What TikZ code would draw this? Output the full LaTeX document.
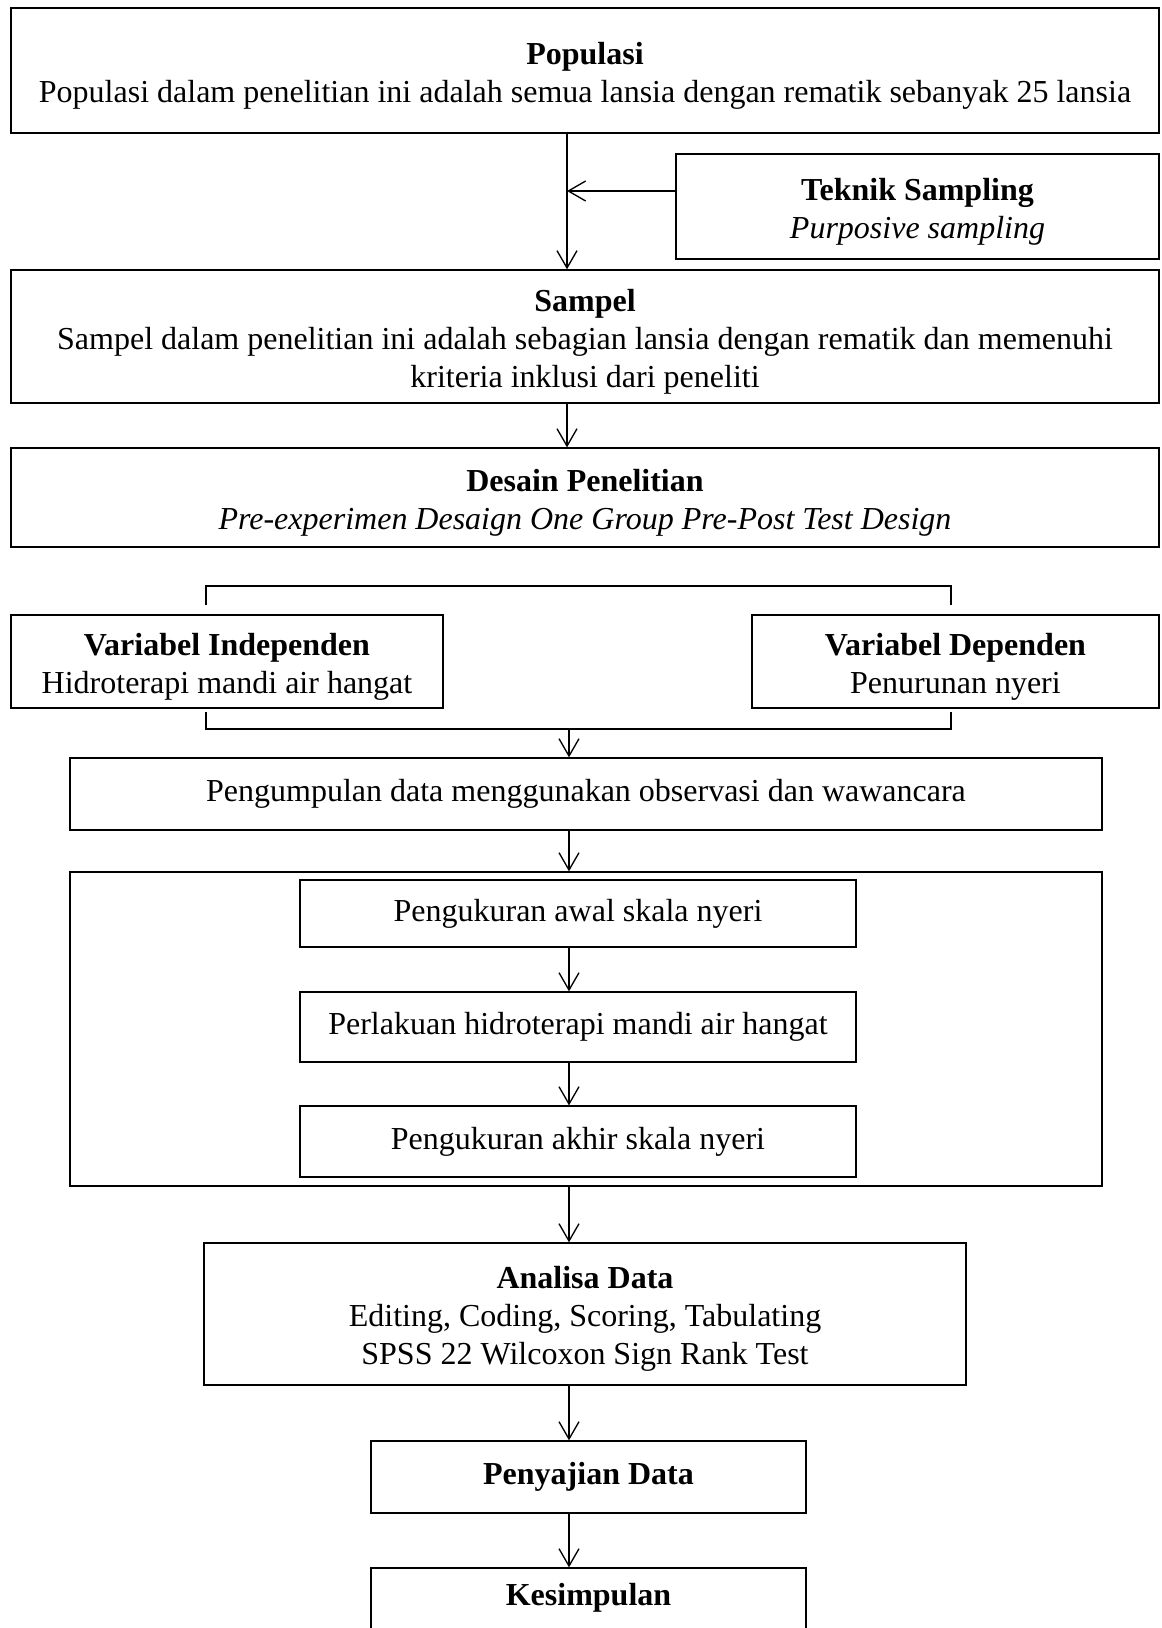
\documentclass[tikz,border=0pt]{standalone}
\usepackage{fontspec}
\setmainfont{Liberation Serif}
\usetikzlibrary{arrows.meta}
\newcommand{\head}[1]{\rule{0pt}{12pt}\textbf{#1}}
\begin{document}
\begin{tikzpicture}[x=0.375pt, y=-0.375pt, line width=0.5pt,
    >={Straight Barb[length=6.5pt,width=7.5pt]},
    box/.style={draw, align=center, inner sep=2pt,
      font=\fontsize{12pt}{14.25pt}\selectfont}]
  \useasboundingbox (0,0) rectangle (1162,1628);
  \coordinate (spine) at (567,0);
  \coordinate (axis) at (569,0);
  % top part
  \node[box, minimum width=430.5pt, minimum height=46.9pt] (pop) at (585,70.5)
    {\head{Populasi}\\Populasi dalam penelitian ini adalah semua lansia dengan rematik sebanyak 25 lansia};
  \node[box, minimum width=181.1pt, minimum height=39.4pt] (tek) at (917.5,206.5)
    {\head{Teknik Sampling}\\\textit{Purposive sampling}};
  \node[box, minimum width=430.5pt, minimum height=49.9pt] (sam) at (585,336.5)
    {\head{Sampel}\\Sampel dalam penelitian ini adalah sebagian lansia dengan rematik dan memenuhi\\kriteria inklusi dari peneliti};
  \node[box, minimum width=430.5pt, minimum height=37.1pt] (des) at (585,497.5)
    {\head{Desain Penelitian}\\\textit{Pre-experimen Desaign One Group Pre-Post Test Design}};
  \coordinate (tap) at (567,191);
  \draw[->] (pop.south -| spine) -- (sam.north -| spine);
  \draw[->] (tek.west |- tap) -- (tap);
  \draw[->] (sam.south -| spine) -- (des.north -| spine);
  % variables
  \node[box, minimum width=162pt, minimum height=34.9pt] (ind) at (227,661.5)
    {\head{Variabel Independen}\\Hidroterapi mandi air hangat};
  \node[box, minimum width=152.6pt, minimum height=34.9pt] (dep) at (955.5,661.5)
    {\head{Variabel Dependen}\\Penurunan nyeri};
  \coordinate (bot) at (569,729);
  \draw (206,605) -- (206,586) -- (951,586) -- (951,605);
  \draw (206,712) -- (206,729) -- (951,729) -- (951,712);
  \node[box, minimum width=387pt, minimum height=27pt] (kum) at (586,794)
    {Pengumpulan data menggunakan observasi dan wawancara};
  \draw[->] (bot) -- (kum.north -| bot);
  % measurement
  \node[draw, minimum width=387pt, minimum height=117.75pt] (frame) at (586,1029) {};
  \node[box, minimum width=208.5pt, minimum height=25.1pt] (awal) at (578,913.5)
    {Pengukuran awal skala nyeri};
  \node[box, minimum width=208.5pt, minimum height=26.25pt] (lak) at (578,1027)
    {Perlakuan hidroterapi mandi air hangat};
  \node[box, minimum width=208.5pt, minimum height=26.6pt] (akh) at (578,1141.5)
    {Pengukuran akhir skala nyeri};
  \draw[->] (kum.south -| axis) -- (frame.north -| axis);
  \draw[->] (awal.south -| axis) -- (lak.north -| axis);
  \draw[->] (lak.south -| axis) -- (akh.north -| axis);
  % analysis
  \node[box, minimum width=285.75pt, minimum height=53.25pt] (ana) at (585,1314)
    {\head{Analisa Data}\\Editing, Coding, Scoring, Tabulating\\SPSS 22 Wilcoxon Sign Rank Test};
  \node[box, minimum width=163.1pt, minimum height=27pt] (saji) at (588.5,1477)
    {\textbf{Penyajian Data}};
  \node[box, minimum width=163.1pt, minimum height=27pt, text depth=7.2pt] (simp) at (588.5,1604)
    {\textbf{Kesimpulan}};
  \draw[->] (frame.south -| axis) -- (ana.north -| axis);
  \draw[->] (ana.south -| axis) -- (saji.north -| axis);
  \draw[->] (saji.south -| axis) -- (simp.north -| axis);
\end{tikzpicture}
\end{document}
